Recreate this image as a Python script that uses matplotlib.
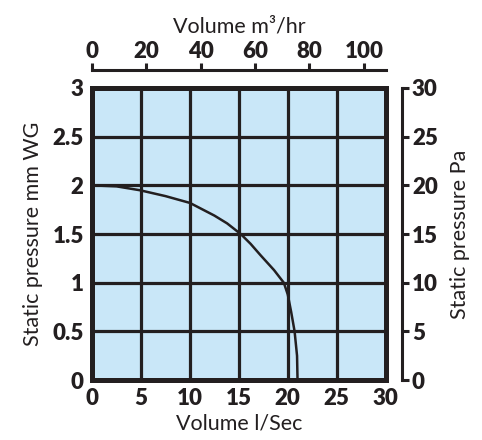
import matplotlib
matplotlib.use("Agg")
from matplotlib import pyplot as plt

plt.rcParams['font.family'] = ['Lato', 'DejaVu Sans']

# fan curve (l/s vs mm WG)
flow_ls = [0, 2.5, 4.9, 7.5, 10, 12.5, 13.8, 15.2, 16.2, 17.2, 18.6, 19.6, 20.0,
           20.35, 20.7, 20.95, 21.0]
pressure_mmwg = [2.0, 1.99, 1.95, 1.89, 1.82, 1.69, 1.61, 1.5, 1.40, 1.285, 1.13, 1.0,
                 0.88, 0.70, 0.5, 0.25, 0.0]

x_ticks = [0, 5, 10, 15, 20, 25, 30]
y_ticks = [0, 0.5, 1, 1.5, 2, 2.5, 3]
y_labels = ['0', '0.5', '1', '1.5', '2', '2.5', '3']
top_ticks = [0, 20, 40, 60, 80, 100]
right_ticks = [0, 5, 10, 15, 20, 25, 30]

bg = '#c9e7f8'
dark = '#231f20'
tick_w = 'heavy'
tick_fs = 16

fig = plt.figure(figsize=(4.82, 4.4), dpi=100)
ax = fig.add_axes([0.191, 0.136, 0.609, 0.664])
ax.set_facecolor(bg)
ax.set_xlim(0, 30)
ax.set_ylim(0, 3)
ax.set_xticks(x_ticks)
ax.set_yticks(y_ticks)
ax.set_yticklabels(y_labels)
ax.tick_params(length=0, labelsize=tick_fs, pad=6)
for lab in ax.get_xticklabels() + ax.get_yticklabels():
    lab.set_fontweight(tick_w)
    lab.set_color(dark)
ax.grid(True, color=dark, linewidth=2.3)
ax.set_axisbelow(True)
for s in ax.spines.values():
    s.set_linewidth(3.6)
    s.set_color(dark)

ax.plot(flow_ls, pressure_mmwg, color=dark, linewidth=1.8, zorder=3,
        solid_joinstyle='round')

ax.set_xlabel("Volume l/Sec", fontsize=15.5, color=dark, labelpad=3)
ax.set_ylabel("Static pressure mm WG", fontsize=15.5, color=dark, labelpad=7)

# top axis in m3/hr
ax_top = ax.twiny()
ax_top.set_xlim(0, 30 * 3.6)
ax_top.set_xticks(top_ticks)
for name in ['bottom', 'left', 'right']:
    ax_top.spines[name].set_visible(False)
ax_top.spines['top'].set_position(('outward', 13))
ax_top.spines['top'].set_linewidth(2.2)
ax_top.spines['top'].set_color(dark)
ax_top.tick_params(axis='x', direction='out', length=5, width=2.2, color=dark,
                   labelsize=tick_fs, pad=1)
for lab in ax_top.get_xticklabels():
    lab.set_fontweight(tick_w)
    lab.set_color(dark)
ax_top.set_xlabel("Volume m³/hr", fontsize=15.5, color=dark, labelpad=6)

# right axis in Pa
ax_r = ax.twinx()
ax_r.set_ylim(0, 30)
ax_r.set_yticks(right_ticks)
for name in ['bottom', 'left', 'top']:
    ax_r.spines[name].set_visible(False)
ax_r.spines['right'].set_position(('outward', 12))
ax_r.spines['right'].set_linewidth(2.2)
ax_r.spines['right'].set_color(dark)
ax_r.tick_params(axis='y', direction='out', length=5, width=2.2, color=dark,
                 labelsize=tick_fs, pad=2)
for lab in ax_r.get_yticklabels():
    lab.set_fontweight(tick_w)
    lab.set_color(dark)
ax_r.set_ylabel("Static pressure Pa", fontsize=15.5, color=dark, labelpad=9)

fig.savefig("out.png", dpi=100)
